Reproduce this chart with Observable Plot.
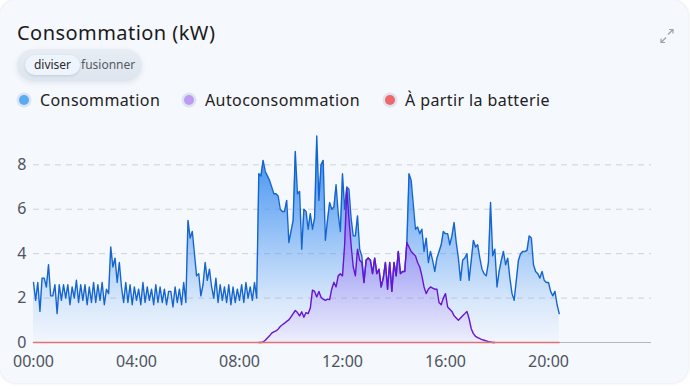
<!DOCTYPE html>
<html><head><meta charset="utf-8">
<script src="https://cdn.jsdelivr.net/npm/d3@7"></script>
<script src="https://cdn.jsdelivr.net/npm/@observablehq/plot@0.6"></script>
<style>
html,body{margin:0;padding:0;background:#ffffff;width:690px;height:389px;overflow:hidden;font-family:"Noto Sans",sans-serif;}
.card{position:absolute;left:0;top:0;width:688px;height:383px;background:#f5f8fd;border-radius:16px;box-shadow:0 0 3px rgba(120,140,170,0.3);}
.title{position:absolute;left:17px;top:23px;font-size:20px;line-height:20px;letter-spacing:0.45px;color:#1b1b1b;white-space:nowrap;}
.pill{position:absolute;left:17px;top:49px;width:125px;height:32px;border-radius:16px;background:linear-gradient(#e8edf4,#dde5ee);box-shadow:0 2px 5px rgba(80,100,130,0.12);}
.pill .on{position:absolute;left:8px;top:6px;width:55px;height:20px;border-radius:10px;background:#eef4fb;box-shadow:0 1px 3px rgba(80,100,130,0.2);font-size:12px;line-height:20px;text-align:center;color:#2a2a2a;}
.pill .off{position:absolute;left:64px;top:6px;font-size:12px;line-height:20px;color:#555b66;}
.dot{position:absolute;width:10px;height:10px;border-radius:50%;top:95px;box-shadow:0 0 0 2.5px #dbe4f0;}
.lt{position:absolute;top:92px;font-size:16px;line-height:16px;letter-spacing:0.4px;color:#222;white-space:nowrap;}
#chart{position:absolute;left:0;top:118px;}
.icon{position:absolute;left:659px;top:28px;}
</style></head>
<body>
<div class="card"></div>
<div class="title">Consommation (kW)</div>
<div class="pill"><span class="on">diviser</span><span class="off">fusionner</span></div>
<span class="dot" style="left:19px;background:#5aa9f3"></span><span class="lt" style="left:40px">Consommation</span>
<span class="dot" style="left:184px;background:#bf9af2"></span><span class="lt" style="left:205px">Autoconsommation</span>
<span class="dot" style="left:385px;background:#ef6767"></span><span class="lt" style="left:405px">À partir la batterie</span>
<svg class="icon" width="16" height="16" viewBox="0 0 16 16" fill="none" stroke="#9aa3ae" stroke-width="1.2">
  <path d="M9 6.5 L14 1.5 M10 1.5 H14 V5.5"/>
  <path d="M7 9.5 L2 14.5 M2 10.5 V14.5 H6"/>
</svg>
<div id="chart"></div>
<script>
// 5-minute samples
const consumptionStart = "00:00";
const consumption = [
  // 00h
  2.7, 1.9, 2.7, 1.4, 2.9, 2.9, 2.5, 3.5, 2.1, 2.1, 2.6, 1.3,
  // 01h
  2.6, 1.9, 2.6, 2.0, 2.6, 1.7, 2.5, 2.0, 2.8, 1.8, 2.6, 1.9,
  // 02h
  2.6, 1.7, 2.5, 1.8, 2.7, 1.8, 2.6, 1.9, 2.7, 1.7, 2.4, 2.2,
  // 03h
  4.3, 3.4, 3.8, 2.7, 3.6, 2.5, 1.8, 2.7, 1.8, 2.6, 1.7, 2.5,
  // 04h
  1.9, 2.4, 1.7, 2.7, 1.8, 2.5, 1.9, 2.4, 1.7, 2.6, 1.8, 2.5,
  // 05h
  1.8, 2.4, 1.7, 2.3, 2.3, 1.6, 2.5, 1.8, 2.4, 1.7, 2.7, 1.8,
  // 06h
  5.5, 4.7, 5.0, 4.0, 3.0, 3.1, 2.1, 2.6, 3.6, 2.8, 3.3, 2.5,
  // 07h
  2.0, 2.9, 1.8, 2.6, 1.9, 2.5, 1.8, 2.6, 1.7, 2.5, 1.8, 2.4,
  // 08h
  1.9, 2.6, 1.8, 2.7, 2.0, 2.5, 1.9, 2.7, 2.0, 7.6, 7.5, 8.2,
  // 09h
  7.7, 7.5, 7.3, 7.0, 6.7, 6.7, 6.6, 6.0, 5.9, 5.9, 6.4, 4.5,
  // 10h
  5.0, 5.5, 8.6, 6.7, 6.8, 4.2, 6.0, 5.9, 5.1, 5.8, 5.1, 5.6,
  // 11h
  9.3, 6.4, 8.0, 8.2, 4.6, 5.5, 6.3, 6.0, 6.1, 7.1, 5.8, 5.0,
  // 12h
  7.6, 6.0, 7.0, 6.9, 5.6, 4.8, 4.8, 5.7, 4.2, 3.9, 2.7, 3.7,
  // 13h
  3.8, 3.7, 3.1, 3.8, 3.1, 3.3, 2.5, 2.9, 3.6, 2.4, 3.6, 2.3,
  // 14h
  3.6, 3.0, 4.1, 3.1, 3.2, 3.2, 4.5, 7.6, 7.3, 6.2, 5.1, 5.2,
  // 15h
  4.9, 5.1, 4.1, 4.7, 3.6, 4.1, 3.7, 3.2, 3.8, 4.1, 4.4, 5.0,
  // 16h
  4.9, 4.9, 4.4, 4.8, 5.4, 4.5, 3.8, 2.8, 3.7, 3.8, 4.0, 2.8,
  // 17h
  3.7, 4.6, 4.3, 4.4, 3.8, 3.3, 3.1, 3.0, 3.6, 6.3, 3.9, 4.2,
  // 18h
  2.5, 3.2, 3.7, 4.1, 3.5, 3.8, 2.9, 2.2, 1.9, 2.8, 3.7, 4.0,
  // 19h
  4.1, 4.1, 4.15, 4.8, 4.7, 3.5, 3.2, 3.1, 2.9, 3.2, 2.8, 2.7,
  // 20h
  2.7, 2.3, 2.1, 2.3, 1.7, 1.3
];

const autoStart = "08:45";
const autoconsommation = [
  // 08:45
  0, 0, 0.02,
  // 09h
  0.1, 0.2, 0.3, 0.42, 0.48, 0.52, 0.6, 0.72, 0.8, 0.87, 0.95, 1.02,
  // 10h
  1.15, 1.3, 1.44, 1.35, 1.2, 1.38, 1.14, 1.35, 1.3, 1.55, 2.36, 2.3,
  // 11h
  2.05, 2.3, 2.04, 1.95, 1.9, 1.95, 1.93, 2.41, 2.71, 2.5, 3.0, 3.09,
  // 12h
  3.0, 4.4, 6.9, 5.6, 4.4, 3.4, 3.0, 4.2, 3.7, 3.6, 2.7, 3.7,
  // 13h
  3.8, 3.7, 3.1, 3.8, 3.1, 3.3, 2.5, 2.9, 3.6, 2.4, 3.6, 2.3,
  // 14h
  3.6, 3.0, 4.1, 3.1, 3.2, 3.2, 4.5, 4.3, 4.1, 4.0, 3.9, 3.6,
  // 15h
  3.4, 3.0, 2.5, 2.2, 2.4, 2.5, 2.45, 2.4, 2.4, 1.8, 1.7, 2.0,
  // 16h
  2.2, 1.6, 1.5, 1.4, 1.2, 1.1, 1.0, 1.1, 1.2, 1.3, 1.4, 1.07,
  // 17h
  0.62, 0.4, 0.28, 0.22, 0.17, 0.13, 0.1, 0.07, 0.04, 0.02, 0, 0
];

const batteryTimes = ["00:00", "20:25"];
const batteryValues = [0, 0];

const xTickLabels = ["00:00", "04:00", "08:00", "12:00", "16:00", "20:00"];
const yTicks = [0, 2, 4, 6, 8];
const STEP_MIN = 5;

const day = Date.UTC(2024, 0, 1);
const toDate = (hhmm, addMin = 0) => {
  const [h, m] = hhmm.split(":").map(Number);
  return new Date(day + (h * 60 + m + addMin) * 60000);
};
const series = (start, vals) => vals.map((v, i) => ({t: toDate(start, i * STEP_MIN), v}));

const cons = series(consumptionStart, consumption);
const auto = series(autoStart, autoconsommation);
const batt = batteryTimes.map((s, i) => ({t: toDate(s), v: batteryValues[i]}));

const chart = Plot.plot({
  width: 690,
  height: 250,
  marginLeft: 33,
  marginRight: 39,
  marginTop: 13,
  marginBottom: 26,
  style: {background: "transparent", fontFamily: "'Noto Sans', sans-serif", fontSize: "16px", color: "#4d5360", overflow: "visible"},
  x: {type: "utc", domain: [toDate("00:00"), toDate("24:00")]},
  y: {domain: [0, 9.5]},
  marks: [
    Plot.ruleY([2, 4, 6, 8], {stroke: "#cdd2d9", strokeDasharray: "6,5"}),
    Plot.ruleY([0], {stroke: "#b3b8bf"}),
    Plot.areaY(cons, {x: "t", y: "v", fill: "url(#gBlue)"}),
    Plot.lineY(cons, {x: "t", y: "v", stroke: "#1565d0", strokeWidth: 1.4}),
    Plot.areaY(auto, {x: "t", y: "v", fill: "url(#gPurple)"}),
    Plot.lineY(auto, {x: "t", y: "v", stroke: "#6a13d4", strokeWidth: 1.4}),
    Plot.lineY(batt, {x: "t", y: "v", stroke: "#e46f74", strokeWidth: 1.3}),
    Plot.axisX({ticks: xTickLabels.map(s => toDate(s)), tickFormat: d3.utcFormat("%H:%M"), tickSize: 0, tickPadding: 13, label: null}),
    Plot.axisY({ticks: yTicks, tickSize: 0, tickPadding: 7, label: null})
  ]
});

const svg = d3.select(chart);
const defs = svg.insert("defs", ":first-child");
const g1 = defs.append("linearGradient").attr("id", "gBlue").attr("x1", 0).attr("y1", 0).attr("x2", 0).attr("y2", 1);
[[0, 0.95], [0.17, 0.85], [0.56, 0.42], [0.8, 0.16], [1, 0.02]].forEach(([o, a]) =>
  g1.append("stop").attr("offset", o).attr("stop-color", "#3a8ef0").attr("stop-opacity", a));
const g2 = defs.append("linearGradient").attr("id", "gPurple").attr("x1", 0).attr("y1", 0).attr("x2", 0).attr("y2", 1);
[[0, 0.7], [0.47, 0.35], [0.73, 0.2], [1, 0.05]].forEach(([o, a]) =>
  g2.append("stop").attr("offset", o).attr("stop-color", "#9b5cf0").attr("stop-opacity", a));

document.getElementById("chart").appendChild(chart);
</script>
</body></html>
